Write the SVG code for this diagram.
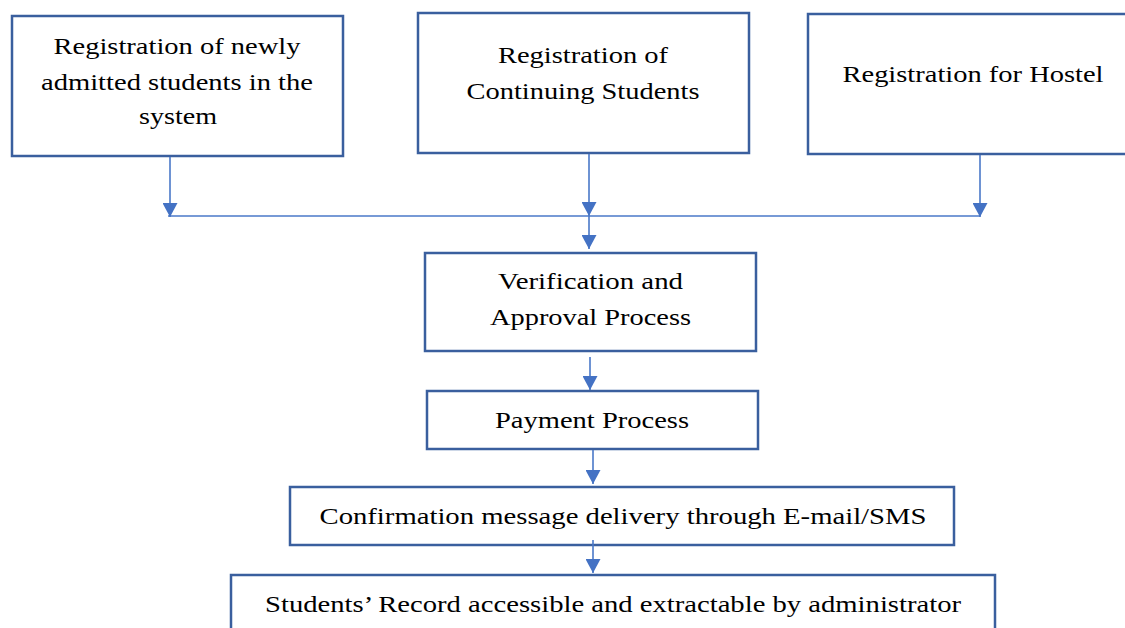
<svg xmlns="http://www.w3.org/2000/svg" width="1125" height="628" viewBox="0 0 1125 628">
<style>
.box{fill:#ffffff;stroke:#3A5F9E;stroke-width:2.5}
.t{font-family:"Liberation Serif","Times New Roman",serif;font-size:24px;fill:#000;text-anchor:middle}
.c{stroke:#4A78C8;stroke-width:1.6;fill:none}
</style>
<defs>
<marker id="ah" viewBox="0 0 14 15" refX="14" refY="7.5" markerWidth="14" markerHeight="15" markerUnits="userSpaceOnUse" orient="auto">
<path d="M0,0 L14,7.5 L0,15 z" fill="#4472C4"/>
</marker>
</defs>
<rect width="1125" height="628" fill="#ffffff"/>
<g id="n1">
<rect class="box" x="12" y="16" width="331" height="140"/>
<text class="t" x="177" y="54" textLength="247" lengthAdjust="spacingAndGlyphs">Registration of newly</text>
<text class="t" x="177" y="90" textLength="272" lengthAdjust="spacingAndGlyphs">admitted students in the</text>
<text class="t" x="178" y="124" textLength="78" lengthAdjust="spacingAndGlyphs">system</text>
</g>
<g id="n2">
<rect class="box" x="418" y="13" width="331" height="140"/>
<text class="t" x="583" y="63" textLength="170" lengthAdjust="spacingAndGlyphs">Registration of</text>
<text class="t" x="583" y="99" textLength="233" lengthAdjust="spacingAndGlyphs">Continuing Students</text>
</g>
<g id="n3">
<rect class="box" x="808" y="14" width="330" height="140"/>
<text class="t" x="973" y="82" textLength="261" lengthAdjust="spacingAndGlyphs">Registration for Hostel</text>
</g>
<g id="n4">
<rect class="box" x="425" y="253" width="331" height="98"/>
<text class="t" x="590.5" y="289" textLength="185" lengthAdjust="spacingAndGlyphs">Verification and</text>
<text class="t" x="590.5" y="325" textLength="201" lengthAdjust="spacingAndGlyphs">Approval Process</text>
</g>
<g id="n5">
<rect class="box" x="427" y="391" width="331" height="58"/>
<text class="t" x="592" y="428" textLength="194" lengthAdjust="spacingAndGlyphs">Payment Process</text>
</g>
<g id="n6">
<rect class="box" x="290" y="487" width="664" height="58"/>
<text class="t" x="623" y="524" textLength="607" lengthAdjust="spacingAndGlyphs">Confirmation message delivery through E-mail/SMS</text>
</g>
<g id="n7">
<rect class="box" x="231" y="575" width="764" height="80"/>
<text class="t" x="613" y="612" textLength="696" lengthAdjust="spacingAndGlyphs">Students’ Record accessible and extractable by administrator</text>
</g>
<g id="connectors">
<line class="c" x1="168" y1="216" x2="980" y2="216"/>
<line class="c" x1="170" y1="157" x2="170" y2="217" marker-end="url(#ah)"/>
<line class="c" x1="589" y1="154" x2="589" y2="216" marker-end="url(#ah)"/>
<line class="c" x1="589" y1="216" x2="589" y2="249" marker-end="url(#ah)"/>
<line class="c" x1="980" y1="155" x2="980" y2="217" marker-end="url(#ah)"/>
<line class="c" x1="590" y1="357" x2="590" y2="390" marker-end="url(#ah)"/>
<line class="c" x1="593" y1="450" x2="593" y2="484" marker-end="url(#ah)"/>
<line class="c" x1="593" y1="540" x2="593" y2="573" marker-end="url(#ah)"/>
</g>
</svg>
